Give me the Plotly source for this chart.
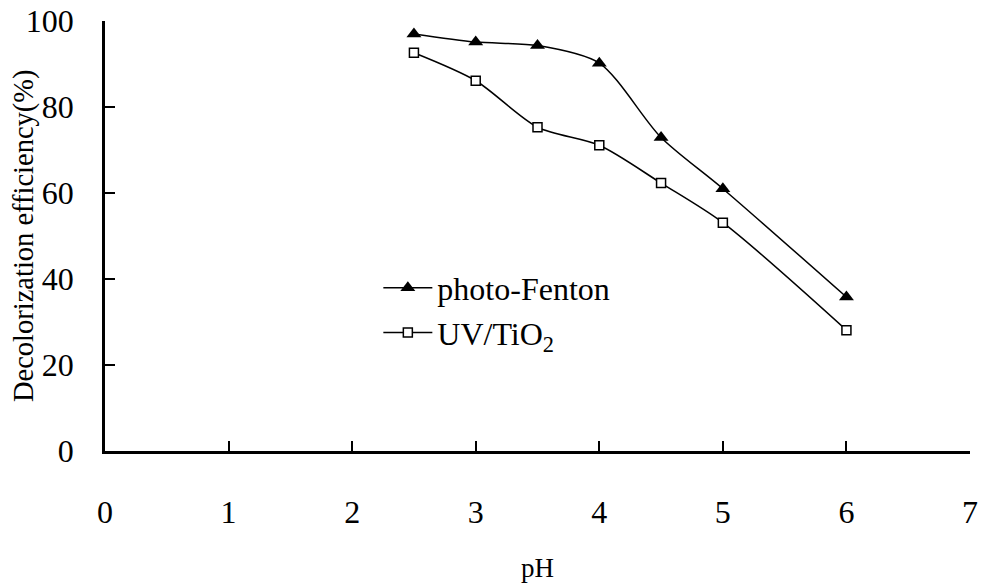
import plotly.graph_objects as go

ph = [2.5, 3, 3.5, 4, 4.5, 5, 6]
photo_fenton = [97.0, 95.1, 94.3, 90.2, 72.9, 61.0, 35.8]
uv_tio2 = [92.6, 86.1, 75.3, 71.1, 62.3, 53.1, 28.1]
x_ticks = [0, 1, 2, 3, 4, 5, 6, 7]
y_ticks = [0, 20, 40, 60, 80, 100]

FONT = "Liberation Serif"

fig = go.Figure()
fig.add_trace(go.Scatter(
    x=ph, y=photo_fenton, name="photo-Fenton", mode="lines+markers",
    line=dict(color="black", width=1.5, shape="spline", smoothing=0.8),
    marker=dict(symbol="triangle-up", size=13, color="black"),
))
fig.add_trace(go.Scatter(
    x=ph, y=uv_tio2, name="UV/TiO<sub>2</sub>", mode="lines+markers",
    line=dict(color="black", width=1.5, shape="spline", smoothing=0.8),
    marker=dict(symbol="square", size=9, color="white", line=dict(color="black", width=1.5)),
))

fig.update_layout(
    width=981, height=583,
    margin=dict(l=105, r=11, t=21, b=132),
    paper_bgcolor="white", plot_bgcolor="white",
    font=dict(family=FONT, color="black"),
    legend=dict(
        x=0.316, y=0.443, xanchor="left", yanchor="top",
        font=dict(size=32, family=FONT), bgcolor="rgba(0,0,0,0)",
        tracegroupgap=0, itemwidth=49,
    ),
    xaxis=dict(
        range=[0, 7], tickvals=x_ticks, showgrid=False, zeroline=False,
        showline=True, linecolor="black", linewidth=2.5, automargin=False,
        ticks="inside", ticklen=10, tickwidth=2.2, tickcolor="black",
        tickfont=dict(size=32, family=FONT), ticklabelstandoff=31,
        ticklabeloverflow="allow",
    ),
    yaxis=dict(
        range=[0, 100], tickvals=y_ticks, showgrid=False, zeroline=False,
        showline=True, linecolor="black", linewidth=2.5, automargin=False,
        ticks="inside", ticklen=10, tickwidth=2.2, tickcolor="black",
        tickfont=dict(size=32, family=FONT), ticklabelstandoff=22,
        ticklabeloverflow="allow",
    ),
    annotations=[
        dict(text="Decolorization efficiency(%)", textangle=-90,
             xref="paper", yref="paper", x=-0.0936, y=0.5,
             xanchor="center", yanchor="middle", showarrow=False,
             font=dict(size=28.5, family=FONT)),
        dict(text="pH", xref="paper", yref="paper", x=0.5, y=-0.272,
             xanchor="center", yanchor="middle", showarrow=False,
             font=dict(size=27, family=FONT)),
    ],
)

# remove the browser's default 8px body margin so the figure fills the window
fig.write_html(
    "out.html",
    config={"displayModeBar": False},
    post_script="document.body.style.margin='0px';document.body.style.overflow='hidden';",
)
